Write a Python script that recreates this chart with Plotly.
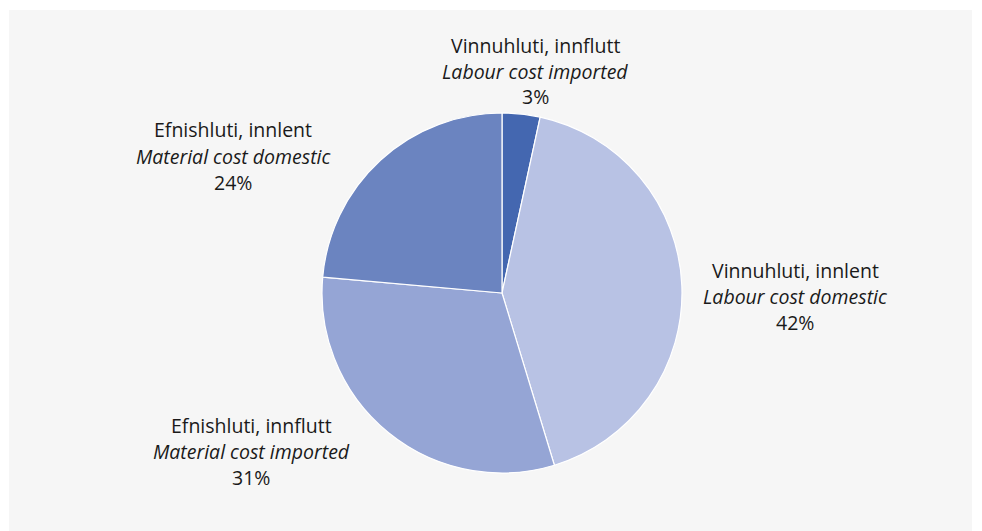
import plotly.graph_objects as go

# ---- data ----
names_is = ["Vinnuhluti, innflutt", "Vinnuhluti, innlent", "Efnishluti, innflutt", "Efnishluti, innlent"]
names_en = ["Labour cost imported", "Labour cost domestic", "Material cost imported", "Material cost domestic"]
shares = [3.4, 41.9, 31.1, 23.6]
colors = ["#4467b0", "#b8c2e4", "#95a5d5", "#6b84c0"]

W, H = 982, 531
OFF = 8  # page body margin offset
def px(x):
    return (x - OFF) / W
def py(y):
    return 1 - (y - OFF) / H

# label centres (pixels) for each slice
label_pos = [(535, 45), (795, 270), (251, 425), (233, 130)]
line_gap = 26

fig = go.Figure()
cx, cy, r = 502, 293, 180
fig.add_trace(go.Pie(
    labels=[f"{a} / {b}" for a, b in zip(names_is, names_en)],
    values=shares,
    sort=False,
    direction="clockwise",
    rotation=0,
    marker=dict(colors=colors, line=dict(color="white", width=1.2)),
    textinfo="none",
    hoverinfo="label+percent",
    showlegend=False,
    domain=dict(x=[px(cx - r), px(cx + r)], y=[py(cy + r), py(cy - r)]),
))

total = sum(shares)
font = dict(family="Open Sans, Noto Sans, sans-serif", size=19.5, color="#1a1a1a")
anns = []
for (x, y), n1, n2, v in zip(label_pos, names_is, names_en, shares):
    texts = [n1, f"<i>{n2}</i>", f"{round(v / total * 100)}%"]
    for i, t in enumerate(texts):
        anns.append(dict(x=px(x), y=py(y + i * line_gap), xref="paper", yref="paper",
                         text=t, showarrow=False, xanchor="center", yanchor="middle",
                         font=font))

fig.update_layout(
    width=W, height=H,
    margin=dict(l=0, r=0, t=0, b=0),
    paper_bgcolor="white",
    plot_bgcolor="white",
    annotations=anns,
    shapes=[dict(type="rect", xref="paper", yref="paper",
                 x0=px(9), x1=px(972), y0=0, y1=py(10),
                 fillcolor="#f6f6f6", line=dict(width=0), layer="below")],
)

fig.write_html("out.html")
